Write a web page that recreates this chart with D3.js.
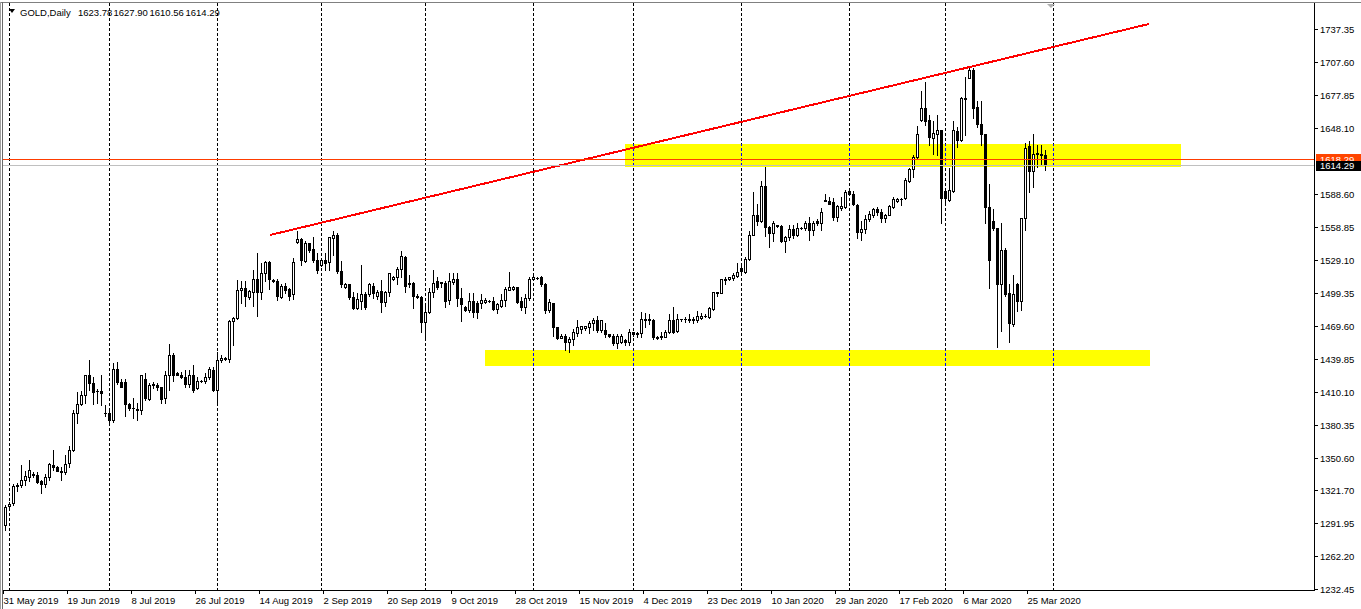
<!DOCTYPE html>
<html><head><meta charset="utf-8">
<script src="https://cdn.jsdelivr.net/npm/d3@7"></script>
<style>html,body{margin:0;padding:0;background:#fff;overflow:hidden}</style>
</head><body>
<svg id="c" width="1361" height="609" xmlns="http://www.w3.org/2000/svg"></svg>
<script>
// ---- DATA (bar index 0 = 31 May 2019, one bar per trading day incl. Sunday sessions) ----
const opens = [1290,1307,1310,1325,1326,1331,1333,1336,1335,1330,1327,1333,1344,1342,1339,1338,1346,1358,1391,1399,
1407,1425,1418,1411,1411,1391,1391,1385,1431,1419,1419,1399,1396,1395,1394,1422,1404,1416,1416,1415,
1405,1425,1443,1427,1425,1424,1417,1425,1414,1420,1420,1424,1430,1412,1439,1440,1440,1474,1477,1502,
1504,1496,1500,1512,1500,1517,1527,1511,1510,1496,1506,1503,1498,1545,1548,1528,1544,1539,1529,1525,
1529,1527,1549,1552,1519,1505,1507,1496,1486,1492,1498,1498,1506,1497,1501,1491,1500,1512,1514,1521,
1532,1507,1508,1497,1496,1473,1482,1500,1510,1509,1508,1493,1509,1512,1495,1487,1484,1492,1490,1490,
1491,1492,1492,1485,1488,1493,1502,1503,1505,1492,1487,1495,1512,1513,1514,1507,1484,1490,1469,1459,
1461,1455,1458,1463,1467,1468,1469,1472,1475,1466,1466,1462,1461,1454,1455,1457,1455,1464,1462,1463,
1475,1476,1475,1460,1461,1460,1464,1475,1465,1476,1476,1476,1475,1475,1477,1479,1478,1485,1500,1499,
1512,1512,1513,1515,1522,1518,1530,1552,1570,1564,1596,1559,1553,1561,1560,1546,1550,1557,1552,1558,
1558,1562,1556,1564,1562,1583,1582,1581,1568,1576,1577,1591,1589,1579,1554,1557,1566,1570,1575,1572,
1567,1570,1577,1582,1584,1585,1600,1611,1622,1655,1666,1655,1639,1643,1646,1591,1583,1591,1645,1637,
1675,1693,1700,1667,1652,1643,1577,1564,1558,1507,1538,1499,1471,1507,1492,1567,1632,1609,1625,1625,
1623.78];
const highs = [1308,1311,1327,1328,1344,1339,1349,1338,1338,1331,1336,1346,1358,1343,1342,1353,1361,1394,1410,1411,
1425,1439,1424,1413,1425,1398,1396,1436,1437,1422,1422,1400,1405,1400,1425,1427,1418,1419,1418,1415,
1429,1453,1445,1428,1428,1430,1430,1434,1424,1421,1427,1433,1433,1446,1443,1442,1475,1478,1511,1510,
1510,1502,1520,1535,1526,1528,1528,1512,1512,1507,1508,1504,1531,1555,1549,1546,1544,1550,1535,1530,
1535,1550,1555,1553,1528,1508,1507,1500,1499,1525,1500,1508,1508,1502,1511,1501,1517,1515,1523,1537,
1533,1516,1509,1498,1497,1488,1504,1520,1514,1509,1510,1517,1517,1517,1504,1488,1499,1499,1492,1498,
1495,1493,1496,1490,1498,1505,1518,1506,1505,1496,1498,1514,1515,1514,1515,1508,1494,1490,1469,1462,
1462,1460,1467,1475,1470,1470,1474,1477,1479,1475,1472,1462,1462,1462,1462,1458,1467,1464,1464,1482,
1481,1480,1476,1461,1464,1466,1480,1487,1480,1476,1478,1480,1478,1483,1481,1480,1487,1500,1500,1512,
1514,1514,1517,1526,1526,1532,1555,1590,1580,1600,1613,1560,1564,1561,1561,1551,1561,1561,1562,1559,
1564,1568,1564,1566,1576,1589,1586,1585,1579,1586,1592,1593,1591,1580,1564,1570,1573,1576,1577,1575,
1571,1579,1586,1585,1585,1603,1612,1624,1650,1681,1690,1660,1654,1660,1646,1593,1612,1654,1649,1676,
1694,1704,1702,1672,1672,1643,1598,1575,1558,1562,1540,1507,1516,1508,1567,1635,1636,1643,1633,1633,
1627.90];
const lows = [1286,1305,1308,1321,1324,1326,1330,1333,1328,1319,1324,1331,1340,1339,1331,1336,1342,1357,1382,1398,
1400,1412,1399,1400,1398,1388,1380,1383,1417,1415,1388,1394,1387,1385,1390,1403,1403,1414,1412,1400,
1400,1412,1420,1425,1423,1415,1415,1410,1413,1419,1418,1422,1411,1401,1437,1439,1437,1452,1476,1490,
1488,1494,1488,1479,1494,1510,1503,1509,1493,1495,1499,1493,1494,1544,1525,1527,1536,1527,1517,1524,
1520,1520,1534,1517,1505,1504,1494,1485,1485,1485,1485,1497,1495,1494,1482,1488,1497,1511,1507,1514,
1500,1505,1486,1495,1464,1458,1481,1496,1503,1505,1487,1489,1507,1488,1474,1483,1482,1478,1477,1486,
1490,1491,1484,1481,1487,1488,1502,1502,1490,1484,1481,1493,1511,1512,1506,1481,1482,1461,1458,1459,
1448,1446,1452,1461,1463,1466,1463,1466,1464,1464,1460,1460,1452,1450,1454,1452,1452,1461,1460,1460,
1469,1471,1458,1458,1458,1460,1463,1463,1464,1474,1473,1473,1472,1473,1476,1478,1477,1484,1497,1499,
1507,1511,1511,1514,1517,1517,1529,1552,1561,1563,1551,1541,1546,1559,1545,1536,1547,1549,1551,1557,
1556,1547,1552,1561,1556,1582,1580,1565,1564,1574,1576,1589,1579,1549,1547,1553,1564,1568,1570,1563,
1563,1570,1576,1581,1579,1584,1599,1604,1621,1654,1651,1633,1625,1624,1562,1581,1582,1590,1631,1636,
1642,1693,1657,1649,1633,1562,1504,1556,1451,1465,1497,1455,1470,1483,1484,1556,1590,1595,1613,1616,
1610.56];
const closes = [1306,1309,1325,1326,1331,1334,1340,1335,1329,1327,1333,1345,1342,1339,1338,1345,1358,1391,1399,1407,
1425,1418,1410,1411,1409,1391,1385,1431,1419,1415,1399,1396,1396,1394,1425,1405,1416,1417,1415,1404,
1425,1443,1425,1425,1424,1417,1425,1412,1420,1420,1424,1431,1412,1439,1441,1441,1474,1477,1502,1504,
1497,1501,1512,1500,1517,1527,1512,1510,1497,1506,1502,1497,1527,1548,1529,1544,1538,1529,1520,1529,
1526,1550,1552,1519,1507,1507,1496,1486,1494,1498,1487,1507,1499,1500,1491,1500,1517,1514,1521,1533,
1506,1508,1497,1496,1473,1482,1500,1508,1505,1508,1492,1510,1512,1495,1489,1484,1492,1482,1482,1493,
1493,1492,1485,1489,1493,1503,1505,1505,1491,1487,1495,1512,1514,1513,1507,1484,1491,1469,1459,1461,
1455,1458,1464,1469,1470,1470,1472,1475,1466,1475,1462,1461,1454,1461,1461,1455,1464,1462,1463,1476,
1476,1475,1460,1459,1460,1464,1475,1464,1476,1476,1476,1475,1476,1479,1479,1479,1486,1500,1499,1512,
1511,1514,1516,1518,1519,1530,1552,1570,1564,1596,1559,1553,1562,1560,1546,1550,1557,1552,1558,1558,
1562,1556,1562,1562,1572,1582,1580,1568,1578,1578,1590,1589,1580,1554,1557,1566,1571,1575,1572,1567,
1570,1578,1584,1584,1584,1601,1611,1622,1643,1666,1654,1640,1644,1646,1585,1585,1592,1646,1637,1675,
1674,1700,1666,1652,1643,1577,1529,1558,1507,1538,1498,1472,1498,1492,1567,1630,1609,1625,1625.5,1624,
1614.29];

const priceTicks = [1737.35,1707.60,1677.85,1648.10,1588.60,1558.85,1529.10,1499.35,1469.60,
  1439.85,1410.10,1380.35,1350.60,1321.70,1291.95,1262.20,1232.45];
const dateLabels = ["31 May 2019","19 Jun 2019","8 Jul 2019","26 Jul 2019","14 Aug 2019","2 Sep 2019",
  "20 Sep 2019","9 Oct 2019","28 Oct 2019","15 Nov 2019","4 Dec 2019","23 Dec 2019","10 Jan 2020",
  "29 Jan 2020","17 Feb 2020","6 Mar 2020","25 Mar 2020"];
const dateLabelIdx = [0,16,32,48,64,80,96,112,128,144,160,176,192,208,224,240,256];
const monthStartIdx = [1,26,53,79,105,132,157,184,211,235,262];
const bid = 1614.29, ask = 1618.29;
const headerTitle = "GOLD,Daily";
const headerValues = [1623.78, 1627.90, 1610.56, 1614.29];
const trendPts = [{i:66.25, p:1551.6},{i:286, p:1741.9}];
const zones = [{i0:155, i1:294, pTop:1633.7, pBot:1612.9},{i0:120, i1:286.25, pTop:1447.9, pBot:1433.5}];

// ---- DRAW ----
const svg = d3.select('#c');
const L = 3, T = 3, R = 1314, B = 590;
const x = d3.scaleLinear().domain([0, 262]).range([5, 1053]);
const y = d3.scaleLinear().domain([1232.45, 1737.35]).range([589, 29]);
const FONT = '"Liberation Sans", Arial, sans-serif';

svg.append('rect').attr('width',1361).attr('height',609).attr('fill','#fff');
const defs = svg.append('defs');
defs.append('clipPath').attr('id','clip').append('rect').attr('x',L).attr('y',T).attr('width',R-L).attr('height',B-T);
const plot = svg.append('g').attr('shape-rendering','crispEdges').attr('clip-path','url(#clip)');

// yellow zones
plot.selectAll('rect.zone').data(zones).join('rect').attr('class','zone')
  .attr('x', d => Math.round(x(d.i0))).attr('width', d => Math.round(x(d.i1)) - Math.round(x(d.i0)))
  .attr('y', d => Math.round(y(d.pTop))).attr('height', d => Math.round(y(d.pBot)) - Math.round(y(d.pTop)))
  .attr('fill', '#ffff00');

// month separators
plot.selectAll('line.sep').data(monthStartIdx).join('line').attr('class','sep')
  .attr('x1', d => Math.round(x(d)) + 0.5).attr('x2', d => Math.round(x(d)) + 0.5)
  .attr('y1', T).attr('y2', B).attr('stroke', '#000').attr('stroke-dasharray', '3,2');
// separator segments over yellow show as blue
zones.forEach(z => {
  const x0 = Math.round(x(z.i0)), x1 = Math.round(x(z.i1));
  const yt = Math.round(y(z.pTop)), yb = Math.round(y(z.pBot));
  const inside = monthStartIdx.filter(m => Math.round(x(m)) >= x0 && Math.round(x(m)) < x1);
  plot.selectAll(null).data(inside).join('line')
    .attr('x1', d => Math.round(x(d)) + 0.5).attr('x2', d => Math.round(x(d)) + 0.5)
    .attr('y1', yt).attr('y2', yb).attr('stroke', '#0000ff')
    .attr('stroke-dasharray', '3,2').attr('stroke-dashoffset', (yt - T) % 5);
});

// candles
const idx = d3.range(closes.length);
const cx = i => Math.round(x(i));
const py = p => Math.round(y(p));
plot.selectAll('rect.wick').data(idx).join('rect').attr('class','wick')
  .attr('x', i => cx(i)).attr('width', 1)
  .attr('y', i => py(highs[i])).attr('height', i => py(lows[i]) - py(highs[i]) + 1)
  .attr('fill', '#000');
plot.selectAll('rect.body').data(idx).join('rect').attr('class','body')
  .attr('x', i => cx(i) - 1).attr('width', 3)
  .attr('y', i => py(Math.max(opens[i], closes[i])))
  .attr('height', i => py(Math.min(opens[i], closes[i])) - py(Math.max(opens[i], closes[i])) + 1)
  .attr('fill', '#000');
const bulls = idx.filter(i => closes[i] > opens[i] && py(opens[i]) - py(closes[i]) >= 2);
plot.selectAll('rect.inner').data(bulls).join('rect').attr('class','inner')
  .attr('x', i => cx(i)).attr('width', 1)
  .attr('y', i => py(closes[i]) + 1)
  .attr('height', i => py(opens[i]) - py(closes[i]) - 1)
  .attr('fill', '#fff');

// trend line
plot.append('path').datum(trendPts)
  .attr('d', d3.line().x(d => x(d.i)).y(d => y(d.p)))
  .attr('fill','none').attr('stroke','#ff0000').attr('stroke-width',2);

// bid / ask lines (ask drawn slightly above as in the terminal)
const askY = py(ask) - 2, bidY = py(bid);
plot.append('line').attr('x1',L).attr('x2',R).attr('y1',askY+0.5).attr('y2',askY+0.5)
  .attr('stroke','#ff3c00');
plot.append('line').attr('x1',L).attr('x2',R).attr('y1',bidY+0.5).attr('y2',bidY+0.5)
  .attr('stroke','#c0c0c0');

// frame
const frame = svg.append('g').attr('shape-rendering','crispEdges');
frame.append('line').attr('x1',0).attr('x2',1361).attr('y1',2.5).attr('y2',2.5).attr('stroke','#808080');
frame.append('line').attr('x1',0.5).attr('x2',0.5).attr('y1',2).attr('y2',609).attr('stroke','#a0a0a0');
frame.append('line').attr('x1',2.5).attr('x2',2.5).attr('y1',2).attr('y2',609).attr('stroke','#696969');
frame.append('line').attr('x1',R+0.5).attr('x2',R+0.5).attr('y1',T).attr('y2',B+1).attr('stroke','#000');
frame.append('line').attr('x1',L).attr('x2',R+1).attr('y1',B+0.5).attr('y2',B+0.5).attr('stroke','#000');

// right price axis
const yAxis = d3.axisRight(y).tickValues(priceTicks).tickSize(4).tickSizeOuter(0).tickPadding(2)
  .tickFormat(d3.format('.2f'));
svg.append('g').attr('transform', `translate(${R},0)`).call(yAxis)
  .call(g => g.select('.domain').remove())
  .call(g => g.selectAll('line').attr('stroke','#000').attr('shape-rendering','crispEdges'))
  .call(g => g.selectAll('text').attr('font-family', FONT).attr('font-size', '9.5px').attr('fill','#000'));

// bottom time axis
const xAxis = d3.axisBottom(x).tickValues(dateLabelIdx).tickFormat((d,k) => dateLabels[k])
  .tickSize(4).tickSizeOuter(0).tickPadding(3);
svg.append('g').attr('transform', `translate(-2,${B})`).call(xAxis)
  .call(g => g.select('.domain').remove())
  .call(g => g.selectAll('line').attr('stroke','#000').attr('shape-rendering','crispEdges'))
  .call(g => g.selectAll('text').attr('text-anchor','start').attr('font-family', FONT)
      .attr('font-size','9.5px').attr('fill','#000'));

// price labels (ask red, partly covered by bid black)
const lab = svg.append('g');
const askTop = askY - 5, bidTop = bidY - 4;
defs.append('clipPath').attr('id','askclip').append('rect')
  .attr('x',R+2).attr('y',askTop).attr('width',1361-R-2).attr('height',bidTop-askTop);
lab.append('rect').attr('x',R+2).attr('y',askTop).attr('width',1361-R-2).attr('height',bidTop-askTop)
  .attr('fill','#ff4500').attr('shape-rendering','crispEdges');
lab.append('text').attr('x',R+6).attr('y',askY+4).text(d3.format('.2f')(ask))
  .attr('clip-path','url(#askclip)')
  .attr('font-family',FONT).attr('font-size','9.5px').attr('fill','#fff');
lab.append('rect').attr('x',R+2).attr('y',bidTop).attr('width',1361-R-2).attr('height',10)
  .attr('fill','#000').attr('shape-rendering','crispEdges');
lab.append('text').attr('x',R+6).attr('y',bidY+4).text(d3.format('.2f')(bid))
  .attr('font-family',FONT).attr('font-size','9.5px').attr('fill','#fff');

// chart shift marker
svg.append('path').attr('d','M1047,4L1055,4L1051,8Z').attr('fill','#b0b0b0');

// header
const hd = svg.append('g');
hd.append('path').attr('d','M9,9L15,9L12,13Z').attr('fill','#000');
hd.append('text').attr('x',20).attr('y',16).text(headerTitle)
  .attr('font-family',FONT).attr('font-size','9.5px').attr('fill','#000');
const hx = [78, 113.5, 149.5, 185.5];
hd.selectAll('text.hv').data(headerValues).join('text').attr('class','hv')
  .attr('x', (d,k) => hx[k]).attr('y', 16).text(d => d3.format('.2f')(d))
  .attr('font-family',FONT).attr('font-size','9.5px').attr('fill','#000');
</script>
</body></html>
